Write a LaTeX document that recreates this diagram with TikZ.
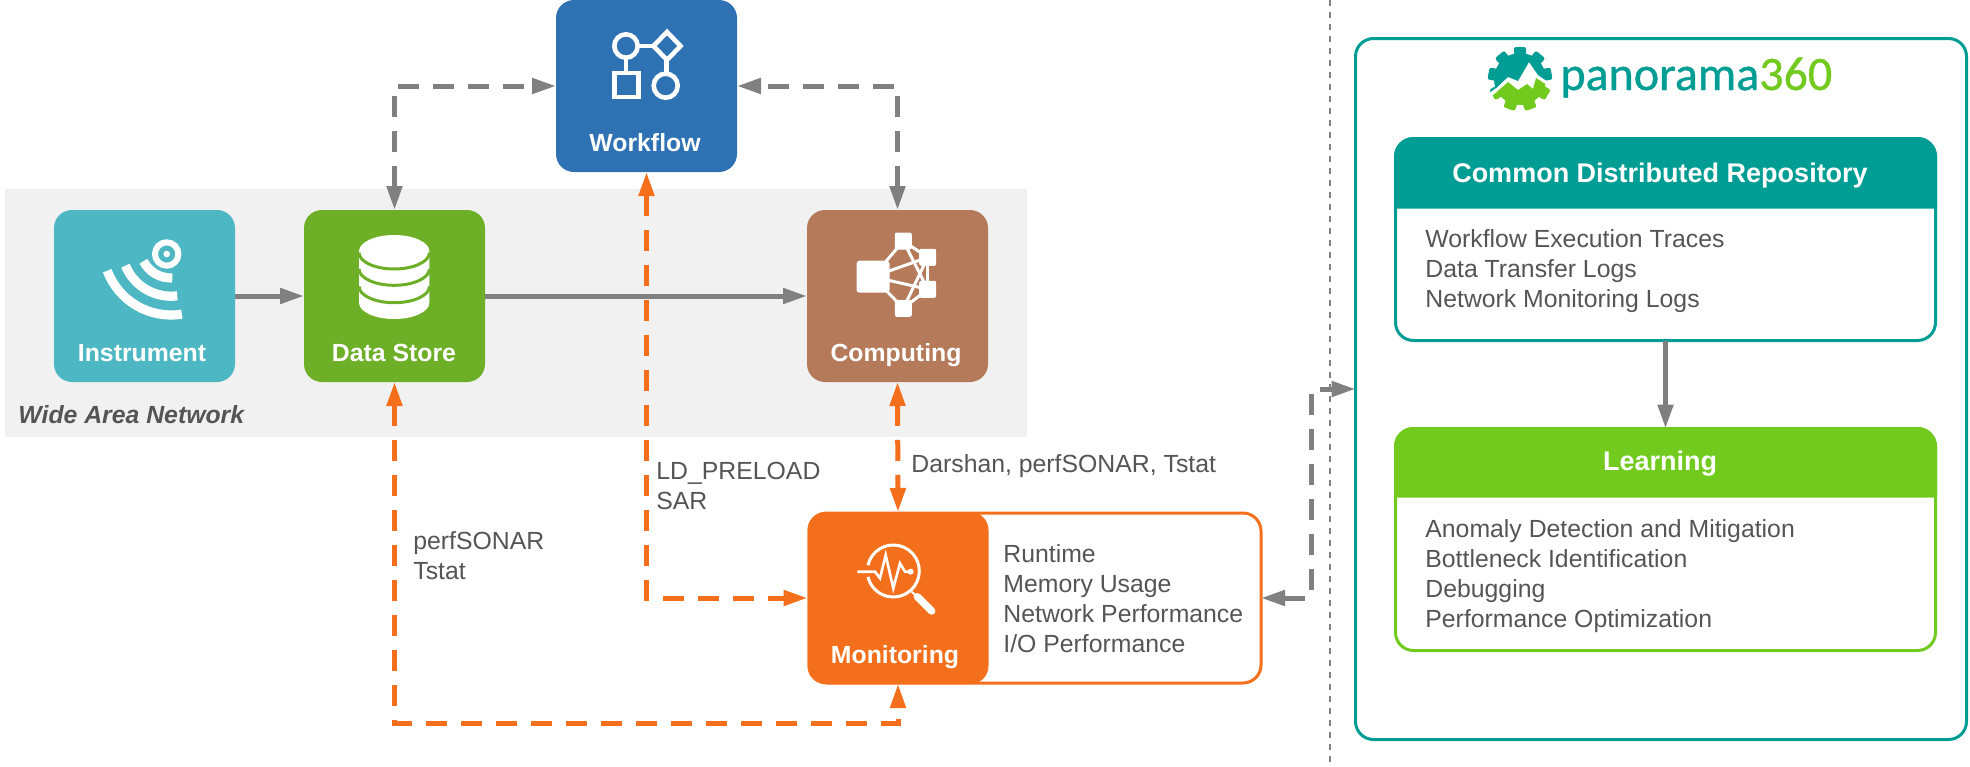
\documentclass[tikz,border=0pt]{standalone}
\usepackage{fontspec}
\setmainfont{Liberation Sans}
\newfontfamily\logofont[FakeBold=0.8]{Carlito}
\usetikzlibrary{positioning,arrows.meta}
\definecolor{flowblue}{HTML}{2E72B4}
\definecolor{instcyan}{HTML}{4DB8C4}
\definecolor{storegreen}{HTML}{6EAF28}
\definecolor{compbrown}{HTML}{B47A5A}
\definecolor{monorange}{HTML}{F36F1B}
\definecolor{repoteal}{HTML}{009D94}
\definecolor{learngreen}{HTML}{72CA1E}
\definecolor{linegray}{HTML}{808080}
\definecolor{bandgray}{HTML}{F1F1F1}
\definecolor{textgray}{HTML}{555555}
\newcommand{\gearbody}{
    \fill (1520,79) circle (26);
    \foreach \a in {0,40,...,320}
        \fill[rotate around={\a:(1520,79)}, rounded corners=1pt] (1514,47) rectangle (1526,60);
}

\begin{document}
\begin{tikzpicture}[
x=0.5pt, y=-0.5pt,
>={Triangle[length=12pt,width=7.5pt]},
tilenode/.style={rectangle, rounded corners=9pt, inner sep=0, outer sep=0, minimum width=90.5pt, minimum height=86pt},
tiletext/.style={anchor=base, text=white, font=\fontsize{12.4}{15}\selectfont\bfseries},
listtext/.style={anchor=base west, align=left, inner sep=0, text=textgray, font=\fontsize{12.4}{15}\selectfont},
headtext/.style={anchor=base, text=white, font=\fontsize{13.5}{16}\selectfont\bfseries},
panelnode/.style={rectangle, draw, line width=1.5pt, rounded corners=9pt, inner sep=0, outer sep=0},
grayline/.style={draw=linegray, line width=2.5pt},
graydash/.style={grayline, dash pattern=on 10.5pt off 7pt},
orangedash/.style={draw=monorange, line width=2.5pt, dash pattern=on 10.5pt off 7pt}
]
    \useasboundingbox (0,0) rectangle (1970,766);

    %Band
    \fill[bandgray] (5,189) rectangle (1027,437);
    \node[anchor=base west, inner sep=0, text=textgray, font=\fontsize{12.4}{15}\selectfont\bfseries\itshape]
        (wan) at (18,423) {Wide Area Network};

    %Nodes
    \node[tilenode, fill=flowblue]   (workflow)  at (646.5,86)  {};
    \node[tilenode, fill=instcyan]   (instrument) at (144.5,296) {};
    \node[tilenode, fill=storegreen] (datastore) at (394.5,296) {};
    \node[tilenode, fill=compbrown]  (computing) at (897.5,296) {};
    \node[panelnode, draw=monorange, minimum width=226pt, minimum height=85pt]
        (monpanel) at (1035,598) {};
    \node[tilenode, fill=monorange] (monitoring) at (898,598) {};

    \node[tiletext] (workflowtext) at (645,151) {Workflow};
    \node[tiletext] (instrumenttext) at (142,361) {Instrument};
    \node[tiletext] (datastoretext) at (394,361) {Data Store};
    \node[tiletext] (computingtext) at (896,361) {Computing};
    \node[tiletext] (monitoringtext) at (895,663) {Monitoring};
    \node[listtext] (monlist) at (1003,652) {Runtime\\Memory Usage\\Network Performance\\I/O Performance};

    %Panorama side
    \node[panelnode, draw=repoteal, minimum width=305.5pt, minimum height=350.5pt]
        (panorama) at (1661,389) {};
    \node[panelnode, draw=repoteal, minimum width=270pt, minimum height=101pt]
        (repo) at (1665.5,239.5) {};
    \node[panelnode, draw=learngreen, minimum width=270pt, minimum height=111pt]
        (learning) at (1665.5,539.5) {};
    \filldraw[repoteal, line width=1.5pt, rounded corners=9pt] (1395.5,207) -- (1395.5,138.5) -- (1935.5,138.5) [sharp corners] -- (1935.5,207) -- cycle;
    \filldraw[learngreen, line width=1.5pt, rounded corners=9pt] (1395.5,496) -- (1395.5,428.5) -- (1935.5,428.5) [sharp corners] -- (1935.5,496) -- cycle;
    \node[headtext] (repohead) at (1660,182) {Common Distributed Repository};
    \node[headtext] (learnhead) at (1660,470) {Learning};
    \node[listtext] (repolist) at (1425,307) {Workflow Execution Traces\\Data Transfer Logs\\Network Monitoring Logs};
    \node[listtext] (learnlist) at (1425,627) {Anomaly Detection and Mitigation\\Bottleneck Identification\\Debugging\\Performance Optimization};

    %Logo
    \begin{scope}
        \clip (1480,30) -- (1565,30) -- (1565,88) -- (1550,83) -- (1538,75) -- (1529,62)
            -- (1518,81) -- (1508,77) -- (1496,88) -- (1480,100) -- cycle;
        \begin{scope}[repoteal] \gearbody \end{scope}
    \end{scope}
    \begin{scope}
        \clip (1480,105) -- (1497,92) -- (1508,82) -- (1518,90) -- (1527,84) -- (1533,89)
            -- (1536,78) -- (1550,87) -- (1565,95) -- (1565,125) -- (1480,125) -- cycle;
        \begin{scope}[learngreen] \gearbody \end{scope}
    \end{scope}
    \node[anchor=base west, inner sep=0, font=\fontsize{24}{28}\selectfont\logofont]
        (logotext) at (1560,90) {\textcolor{repoteal}{panorama}\textcolor{learngreen}{360}};

    %Icons
    \begin{scope}[draw=white, line width=2.3pt]
        \draw (626,46) circle (11.7);
        \draw (667,32) -- (680.5,46) -- (667,60) -- (653.5,46) -- cycle;
        \draw (614.6,73) rectangle (638.4,97);
        \draw (665.7,85.7) circle (12);
        \draw (637.7,46) -- (653.5,46);
        \draw (626,57.7) -- (626,73);
        \draw (666.5,60) -- (666.5,73.7);
    \end{scope}

    \foreach \rad/\from/\to in {68/159.6/80.8, 49.2/157.7/82.7, 31/152.6/87.6}
        \draw[white, line width=4.6pt] (171,247) ++(\from:\rad) arc[start angle=\from, end angle=\to, radius=\rad];
    \draw[white, line width=3pt] (166.7,254) circle (11.7);
    \fill[white] (166.7,254) circle (3.3);

    \fill[white] (359,251.3) -- (359,302.7) arc[start angle=180, end angle=0, x radius=35.2, y radius=16.3]
        -- (429.4,251.3) arc[start angle=0, end angle=-180, x radius=35.2, y radius=16.3] -- cycle;
    \foreach \y in {252.7,269,286.4}
        \draw[storegreen, line width=1.5pt] (359,\y) arc[start angle=180, end angle=0, x radius=35.2, y radius=16.3];

    \begin{scope}
        \coordinate (cl) at (873,276.7);
        \coordinate (ct) at (903.3,241);
        \coordinate (cu) at (927.7,257.3);
        \coordinate (cd) at (927.7,289.3);
        \coordinate (cb) at (903.3,308.3);
        \foreach \from/\to in {cl/ct,cl/cu,cl/cd,cl/cb,ct/cu,cu/cd,cd/cb,ct/cd,cu/cb}
            \draw[white, line width=1.5pt] (\from) -- (\to);
        \fill[white, rounded corners=1.5pt] (856.5,260.7) rectangle (889.5,292.7);
        \foreach \cname in {ct,cu,cd,cb}
            \fill[white, rounded corners=1pt] (\cname) ++(-8.5,-8.5) rectangle ++(17,17);
    \end{scope}

    \draw[white, line width=1.5pt] (893.3,571) ++(193:26) arc[start angle=193, end angle=527, radius=26];
    \draw[white, line width=1.3pt] (857.3,571.7) -- (875,571.7) -- (880,578.3) -- (885.7,555) -- (893.3,588.3)
        -- (900,563.3) -- (905,571.7) -- (910.7,571.7);
    \fill[white] (910.7,571.7) circle (3);
    \draw[white, line width=1pt] (911.7,591.7) -- (917.3,597);
    \draw[white, line width=3.7pt, line cap=round] (917.3,596.7) -- (931.7,611);

    %Lines
    \draw[->, grayline] (instrument.east) -- (datastore.west);
    \draw[->, grayline] (datastore.east) -- (computing.west);
    \draw[->, grayline] (repo.south) -- (learning.north);
    \draw[<->, graydash] (datastore.north) |- (workflow.west);
    \draw[<->, graydash] (computing.north) |- (workflow.east);
    \coordinate (trunk) at (1311,389);
    \draw[<->, graydash] (monpanel.east) -| (trunk) -- (panorama.west);
    \draw[<->, orangedash] (workflow.south) |- (monitoring.west);
    \draw[<->, orangedash] (computing.south) -- (monitoring.north);
    \coordinate (monbus) at (898,723);
    \draw[<->, orangedash] (datastore.south) |- (monbus) -- (monitoring.south);

    \coordinate (divtop) at (1330,0);
    \coordinate (divbot) at (1330,766);
    \draw[linegray, line width=0.6pt, dashed] (divtop) -- (divbot);

    %Labels
    \node[listtext] (preloadlabel) at (656,509) {LD\_PRELOAD\\SAR};
    \node[listtext] (sonarlabel) at (413,579) {perfSONAR\\Tstat};
    \node[listtext] (darshanlabel) at (911,472) {Darshan, perfSONAR, Tstat};
\end{tikzpicture}
\end{document}
